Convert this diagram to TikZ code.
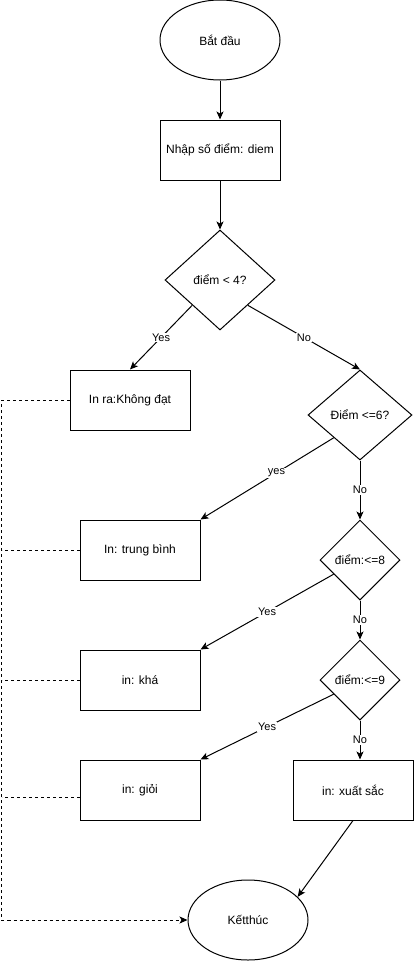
\documentclass[tikz,border=0pt]{standalone}
\usepackage{fontspec}
\setmainfont{Liberation Sans}
\usetikzlibrary{positioning, arrows.meta, shapes.geometric, calc}

\begin{document}
\begin{tikzpicture}[
			x=1pt, y=1pt,
			on grid,
			line width=1pt,
			font=\fontsize{12}{14}\selectfont,
			terminal/.style={
				draw,
				ellipse,
				minimum width=120pt,
				minimum height=80pt,
				inner sep=0pt
			},
			process/.style={
				draw,
				rectangle,
				minimum width=120pt,
				minimum height=60pt,
				inner sep=0pt
			},
			decision/.style={
				draw,
				diamond,
				inner sep=0pt
			},
			flow/.style={
				draw,
				-{Stealth[length=8pt, width=7pt, inset=2pt]}
			},
			back/.style={
				draw,
				dash pattern=on 3pt off 3pt
			},
			lbl/.style={
				fill=white,
				inner sep=1pt,
				font=\fontsize{11}{13}\selectfont
			}
			]
			\useasboundingbox (0,0) rectangle (414,-961);
			
			% Nodes
			\node[terminal] (start) at (220,-40) {Bắt đầu};
			\node[process] (input) [below=110pt of start] {Nhập số điểm: diem};
			\node[decision, minimum width=110pt, minimum height=100pt] (d1) [below=130pt of input] {điểm < 4?};
			\node[process] (khongdat) [below left=120pt and 90pt of d1] {In ra:Không đạt};
			\node[decision, minimum width=104pt, minimum height=90pt] (d2) [below right=135pt and 140pt of d1] {Điểm <=6?};
			\node[process] (trungbinh) [below left=135pt and 220pt of d2] {In: trung bình};
			\node[decision, minimum width=80pt, minimum height=80pt] (d3) [below=145pt of d2] {điểm:<=8};
			\node[process] (kha) [below left=120pt and 220pt of d3] {in: khá};
			\node[decision, minimum width=80pt, minimum height=80pt] (d4) [below=120pt of d3] {điểm:<=9};
			\node[process] (gioi) [below left=110pt and 220pt of d4] {in: giỏi};
			\node[process] (xuatsac) [below left=110pt and 7pt of d4] {in: xuất sắc};
			\node[terminal] (ketthuc) [below left=130pt and 105pt of xuatsac] {Kếtthúc};
			\coordinate (rail) at (1.5,0);
			
			% Arrows
			\path[flow] (start) -- (input);
			\path[flow] (input) -- (d1);
			\path[flow] (d1.south west) -- node[lbl] {Yes} (khongdat.north);
			\path[flow] (d1.south east) -- node[lbl] {No} (d2.north);
			\path[flow] (d2.south west) -- node[lbl, pos=0.43] {yes} (trungbinh.north east);
			\path[flow] (d2) -- node[lbl] {No} (d3);
			\path[flow] ($(d3.west)!.35!(d3.south)$) -- node[lbl] {Yes} (kha.north east);
			\path[flow] (d3) -- node[lbl] {No} (d4);
			\path[flow] ($(d4.west)!.35!(d4.south)$) -- node[lbl] {Yes} (gioi.north east);
			\path[flow] (d4.south) -- node[lbl] {No} (d4.south |- xuatsac.north);
			\path[flow] (xuatsac.south) -- (ketthuc.25);
			
			% Dashed returns
			\path[back, flow] (khongdat.west) -- (khongdat.west -| rail) |- (ketthuc.west);
			\path[back] (trungbinh.west) -- (trungbinh.west -| rail);
			\path[back] (kha.west) -- (kha.west -| rail);
			\path[back] ([yshift=-7pt]gioi.west) -- ([yshift=-7pt]gioi.west -| rail);
		\end{tikzpicture}
\end{document}
